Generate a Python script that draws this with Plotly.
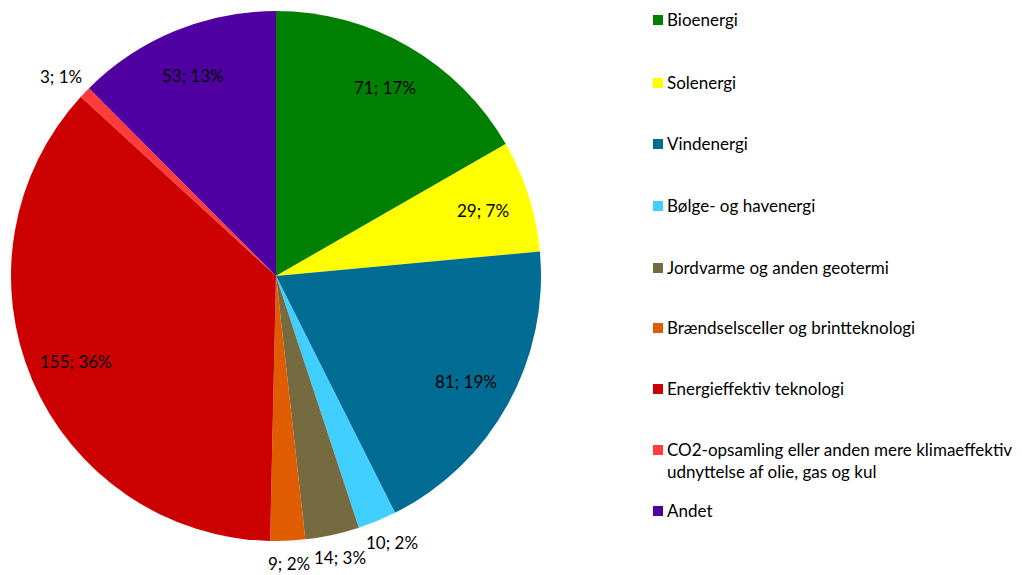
import math

import plotly.graph_objects as go

# ---------------------------------------------------------------------------
# Data
# ---------------------------------------------------------------------------

categories = [
    "Bioenergi",
    "Solenergi",
    "Vindenergi",
    "Bølge- og havenergi",
    "Jordvarme og anden geotermi",
    "Brændselsceller og brintteknologi",
    "Energieffektiv teknologi",
    "CO2-opsamling eller anden mere klimaeffektiv<br>udnyttelse af olie, gas og kul",
    "Andet",
]
values = [71, 29, 81, 10, 14, 9, 155, 3, 53]
percent_labels = [17, 7, 19, 2, 3, 2, 36, 1, 13]
colors = [
    "#008000", "#FFFF00", "#006C93", "#40CFFF", "#766A40",
    "#E05C00", "#CC0000", "#FF3B3B", "#5000A0",
]
label_outside = [False, False, False, True, True, True, False, True, False]

FONT = "Lato"
FONT_SIZE = 17
W, H = 1022, 575
OFF = 8  # the page body adds an 8px margin; shift everything back by it

# pie geometry in reference pixels
CX, CY, R = 276, 276, 265


def px(x):
    return (x - OFF) / W


def py(y):
    return 1 - (y - OFF) / H


fig = go.Figure()
fig.add_trace(
    go.Pie(
        labels=categories,
        values=values,
        textinfo="none",
        marker=dict(colors=colors, line=dict(width=0)),
        sort=False,
        direction="clockwise",
        rotation=0,
        domain=dict(x=[px(CX - R), px(CX + R)], y=[py(CY + R), py(CY - R)]),
        showlegend=False,
        hoverinfo="label+value+percent",
    )
)

# Data labels, placed at the middle angle of each slice
total = sum(values)
cum = 0
for v, pct, outside in zip(values, percent_labels, label_outside):
    mid = (cum + v / 2) / total * 2 * math.pi
    cum += v
    s, c = math.sin(mid), math.cos(mid)
    text = f"{v}; {pct}%"
    if outside:
        # push the label box just clear of the rim
        half_w = len(text) * 4.3 + 12
        half_h = 9 + 14
        lx = CX + R * s + s * half_w
        ly = CY - R * c - c * half_h
    else:
        lx = CX + R * 0.82 * s
        ly = CY - R * 0.82 * c
    fig.add_annotation(
        x=px(lx), y=py(ly), xref="paper", yref="paper",
        xanchor="center", yanchor="middle",
        text=text, showarrow=False,
        font=dict(family=FONT, size=FONT_SIZE, color="black"),
    )

# Legend drawn by hand so the item spacing matches the original
legend_y = [20, 83, 144, 206, 268, 328, 389, 450, 511]
for cat, col, yy in zip(categories, colors, legend_y):
    fig.add_shape(
        type="rect", xref="paper", yref="paper",
        x0=px(653), x1=px(663), y0=py(yy + 5), y1=py(yy - 5),
        fillcolor=col, line=dict(width=0),
    )
    fig.add_annotation(
        x=px(665), y=py(yy - 13), xref="paper", yref="paper",
        xanchor="left", yanchor="top", align="left",
        text=cat, showarrow=False,
        font=dict(family=FONT, size=FONT_SIZE, color="black"),
    )

fig.update_layout(
    width=W,
    height=H,
    margin=dict(l=0, r=0, t=0, b=0),
    paper_bgcolor="white",
    plot_bgcolor="white",
)

fig.write_html("out.html")
